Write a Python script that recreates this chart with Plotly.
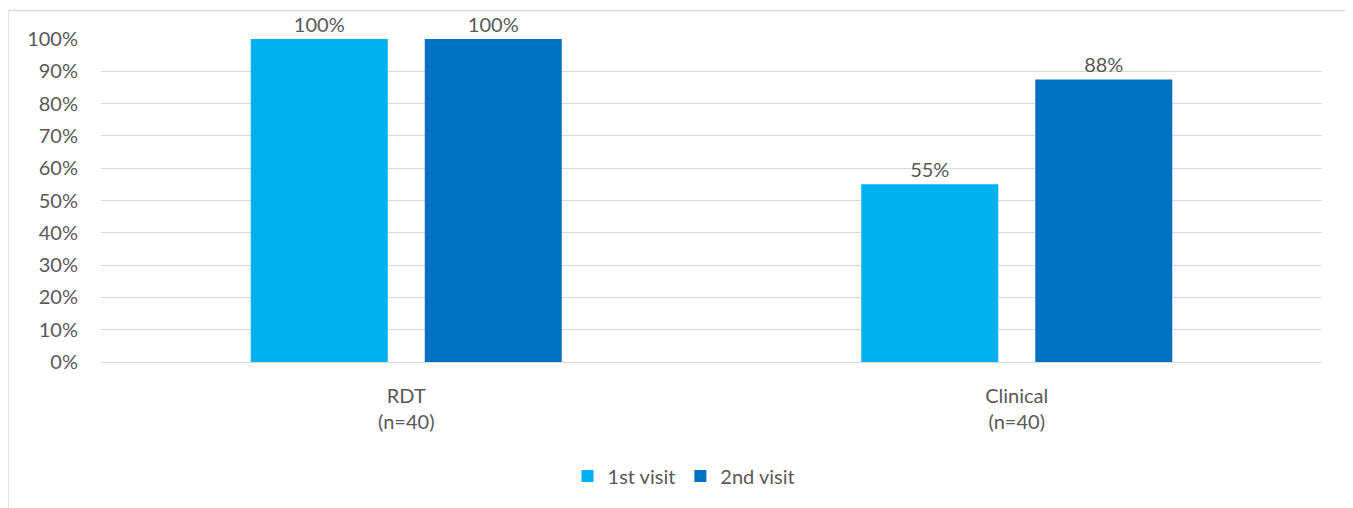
import plotly.graph_objects as go

categories = ["RDT<br>(n=40)", "Clinical<br>(n=40)"]
first_visit = [1.00, 0.55]
second_visit = [1.00, 0.875]
series_names = ["1st visit", "2nd visit"]
colors = ["#00B0F0", "#0070C0"]

FONT = "Lato, Carlito, Calibri, sans-serif"
TXT = "#595959"

fig = go.Figure()
for name, vals, col in zip(series_names, [first_visit, second_visit], colors):
    fig.add_trace(go.Bar(
        x=categories, y=vals, name=name, marker=dict(color=col, line=dict(width=0)),
        texttemplate="%{y:.0%}", textposition="outside", cliponaxis=False,
        textfont=dict(family=FONT, size=20, color=TXT),
        constraintext="none",
    ))

# page body adds an 8px offset; margins account for it
fig.update_layout(
    width=1353, height=508,
    margin=dict(l=93, r=39, t=31, b=154),
    paper_bgcolor="white", plot_bgcolor="white",
    barmode="group", bargap=0.43, bargroupgap=0.2126,
    font=dict(family=FONT, size=20, color=TXT),
    showlegend=True,
    legend=dict(orientation="h", x=0.4775, xanchor="center", y=-0.353, yanchor="middle",
                font=dict(family=FONT, size=20, color=TXT), itemwidth=30,
                traceorder="normal"),
    xaxis=dict(showgrid=False, showline=False, ticks="", ticklabelstandoff=20,
               tickfont=dict(family=FONT, size=20, color=TXT)),
    yaxis=dict(range=[0, 1], dtick=0.1, tickformat=".0%", showgrid=True,
               gridcolor="#D9D9D9", gridwidth=1, zeroline=True, zerolinecolor="#D9D9D9",
               zerolinewidth=1, showline=False, ticks="", ticklabelstandoff=22,
               tickfont=dict(family=FONT, size=20, color=TXT)),
    shapes=[dict(type="rect", xref="paper", yref="paper",
                 x0=(8 - 101) / 1221, x1=(1351 - 101) / 1221,
                 y0=-0.6, y1=(362 - 10.5) / 323,
                 line=dict(color="#D9D9D9", width=1.5), fillcolor="rgba(0,0,0,0)",
                 layer="below")],
)

fig.write_html("out.html")
